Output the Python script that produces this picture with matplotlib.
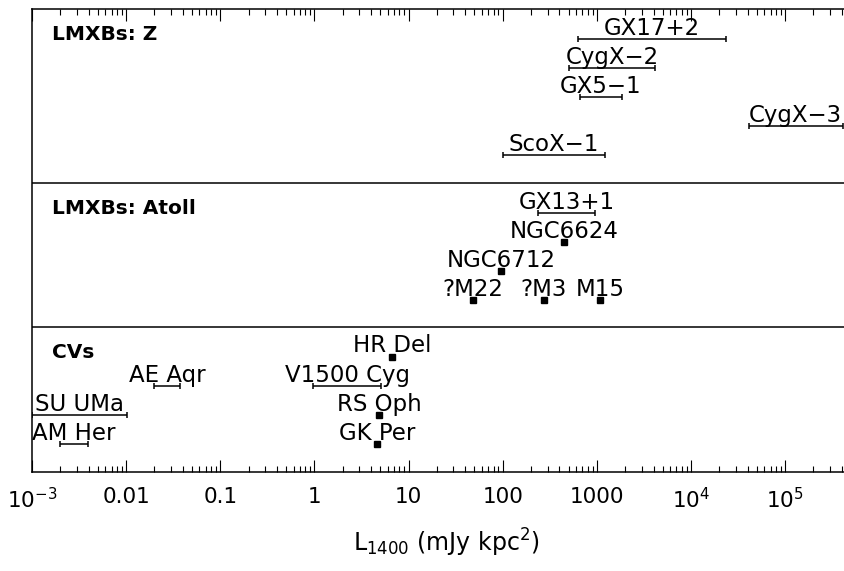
import numpy as np
import matplotlib
matplotlib.use('Agg')
import matplotlib.pyplot as plt
from matplotlib import ticker
from matplotlib import transforms

plt.rcParams['font.family'] = 'DejaVu Sans'
plt.rcParams['mathtext.fontset'] = 'dejavusans'

# Z sources: range of L_1400 (mJy kpc^2)
z_names = ['GX17+2', 'CygX\u22122', 'GX5\u22121', 'CygX\u22123', 'ScoX\u22121']
z_lo = [630, 510, 660, 4.1e4, 100]
z_hi = [2.35e4, 4150, 1850, 4.1e5, 1220]
z_rows = [0, 1, 2, 3, 4]

# Atoll sources
atoll_rng_names = ['GX13+1']
atoll_rng_lo = [240]
atoll_rng_hi = [950]
atoll_rng_rows = [0]
atoll_pt_names = ['NGC6624', 'NGC6712', '?M22', '?M3', 'M15']
atoll_pt_val = [450, 96, 48, 275, 1080]
atoll_pt_rows = [1, 2, 3, 3, 3]

# cataclysmic variables
cv_rng_names = ['V1500 Cyg', 'AE Aqr', 'SU UMa', 'AM Her']
cv_rng_lo = [0.97, 0.020, 0.001, 0.0020]
cv_rng_hi = [5.1, 0.037, 0.0102, 0.0039]
cv_rng_rows = [1, 1, 2, 3]
cv_pt_names = ['HR Del', 'RS Oph', 'GK Per']
cv_pt_val = [6.7, 4.85, 4.6]
cv_pt_rows = [0, 2, 3]

panel_names = ['LMXBs: Z', 'LMXBs: Atoll', 'CVs']
tick_labels = ['$10^{-3}$', '0.01', '0.1', '1', '10', '100', '1000',
               '$10^4$', '$10^5$']

# vertical layout in pixel units (y grows downwards)
y_top, y_bot = 9, 472
panel_tops = [9, 183, 327]
row0, row_step = 29.5, 29.1

fig = plt.figure(figsize=(8.44, 5.71), dpi=100)
ax = fig.add_axes([32 / 844, (571 - y_bot) / 571, 816 / 844, (y_bot - y_top) / 571])
ax.set_xscale('log')
ax.set_xlim(1e-3, 10 ** (-3 + 816 / 94.14))
ax.set_ylim(y_bot, y_top)


def rowy(panel, r):
    return panel_tops[panel] + row0 + row_step * r


def ranges(panel, names, lo, hi, rows):
    lo = np.array(lo, float)
    hi = np.array(hi, float)
    mid = np.sqrt(lo * hi)
    ys = np.array([rowy(panel, r) for r in rows])
    ax.errorbar(mid, ys, xerr=[mid - lo, hi - mid], fmt='none', ecolor='black',
                elinewidth=1.1, capsize=2.3, capthick=1.1)
    for m, y, n in zip(mid, ys, names):
        ax.text(m, y - 3.5, n, ha='center', va='baseline', fontsize=16.5)


def points(panel, names, vals, rows):
    ys = np.array([rowy(panel, r) for r in rows])
    ax.plot(vals, ys, 's', color='black', ms=5, ls='none')
    for v, y, n in zip(vals, ys, names):
        ax.text(v, y - 4, n, ha='center', va='baseline', fontsize=16.5)


ranges(0, z_names, z_lo, z_hi, z_rows)
ranges(1, atoll_rng_names, atoll_rng_lo, atoll_rng_hi, atoll_rng_rows)
points(1, atoll_pt_names, atoll_pt_val, atoll_pt_rows)
ranges(2, cv_rng_names, cv_rng_lo, cv_rng_hi, cv_rng_rows)
points(2, cv_pt_names, cv_pt_val, cv_pt_rows)

for yt in panel_tops[1:]:
    ax.axhline(yt, color='black', lw=1.1)

trans = transforms.blended_transform_factory(ax.transAxes, ax.transData)
for yt, name in zip(panel_tops, panel_names):
    ax.text(20 / 816, yt + 31, name, transform=trans, ha='left', va='baseline',
            fontsize=14.5, fontweight='bold')

ax.xaxis.set_major_locator(ticker.LogLocator(base=10, numticks=20))
ax.xaxis.set_minor_locator(ticker.LogLocator(base=10, subs=np.arange(2, 10), numticks=20))


def fmt(x, pos):
    e = int(round(np.log10(x)))
    if -3 <= e <= 5:
        return tick_labels[e + 3]
    return ''


ax.xaxis.set_major_formatter(ticker.FuncFormatter(fmt))
ax.xaxis.set_minor_formatter(ticker.NullFormatter())
ax.tick_params(axis='x', which='both', direction='in', top=True, labelsize=15.5,
               pad=11, width=0.8)
ax.tick_params(axis='x', which='major', length=8.5)
ax.tick_params(axis='x', which='minor', length=4.5)
ax.set_yticks([])
for s in ax.spines.values():
    s.set_linewidth(1.1)

fig.text(446 / 844, (571 - 552) / 571, 'L$_{1400}$ (mJy kpc$^2$)', ha='center',
         va='baseline', fontsize=17)

fig.savefig('out.png', dpi=100)
